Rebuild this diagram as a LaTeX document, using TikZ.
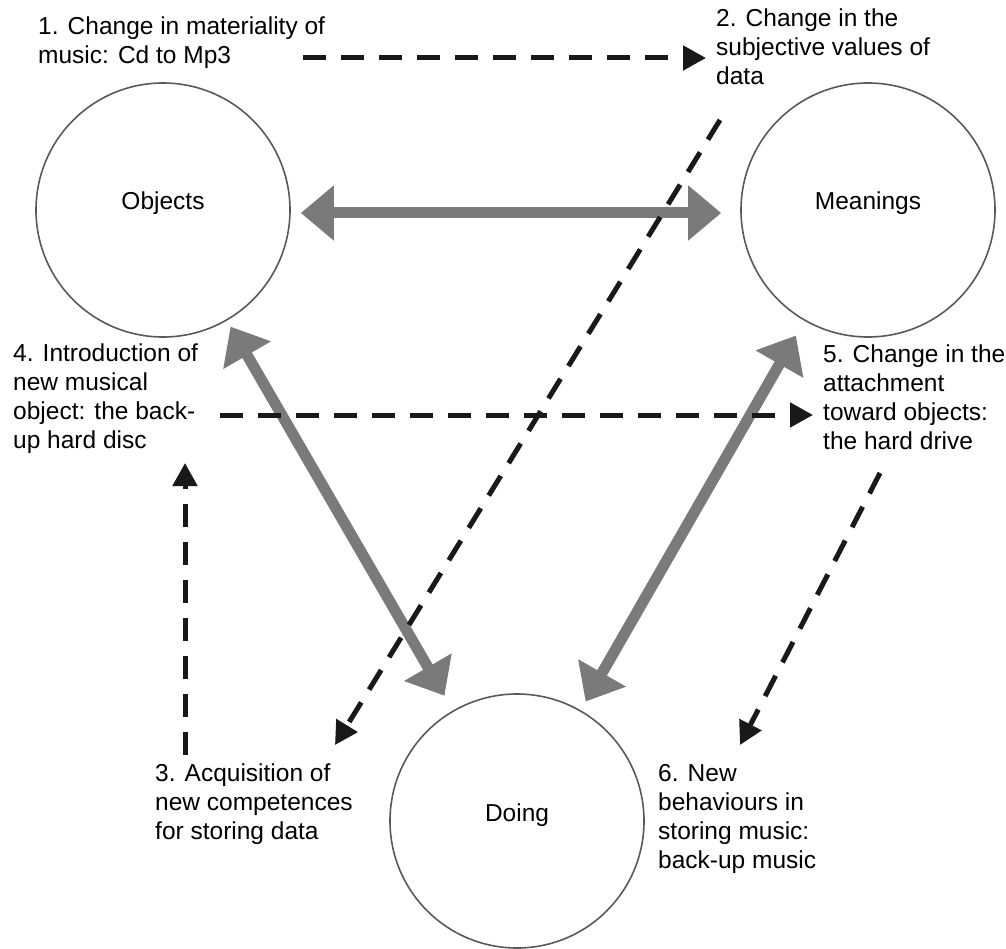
\documentclass[tikz,border=0pt]{standalone}
\usepackage{fontspec}
\setmainfont{Liberation Sans}
\usepackage{tikz}
\usetikzlibrary{arrows.meta, positioning, calc}

\begin{document}
\begin{tikzpicture}[
    x=1pt, y=-1pt,
    circ/.style={draw=black!65, line width=1.6pt, circle, minimum size=254pt, inner sep=0pt,
                 text height=17pt, text depth=17pt, font=\fontsize{24.5pt}{29pt}\selectfont},
    note/.style={anchor=north west, align=left, inner sep=0pt, font=\fontsize{24.5pt}{29pt}\selectfont},
    bidir/.style={{Triangle[length=33pt, width=53pt]}-{Triangle[length=33pt, width=53pt]},
                  line width=11pt, draw=black!52},
    dasharr/.style={-{Triangle[length=23pt, width=24pt]}, line width=5pt,
                    dash pattern=on 23pt off 15pt, draw=black!90}
]
\useasboundingbox (0,0) rectangle (1006,949);

% Circles
\node[circ] (obj) at (163,210) {Objects};
\node[circ] (mean) at (868,210) {Meanings};
\node[circ] (doing) at (517,821) {Doing};

% Notes
\node[note] (n1) at (38,17) {1. Change in materiality of\\music: Cd to Mp3};
\node[note] (n2) at (716,9) {2. Change in the\\subjective values of\\data};
\node[note] (n3) at (155,764) {3. Acquisition of\\new competences\\for storing data};
\node[note] (n4) at (13,344) {4. Introduction of\\new musical\\object: the back-\\up hard disc};
\node[note] (n5) at (823,345) {5. Change in the\\attachment\\toward objects:\\the hard drive};
\node[note] (n6) at (658,764) {6. New\\behaviours in\\storing music:\\back-up music};

% Arrow ends
\coordinate (a1) at (303,58);
\coordinate (a2) at (720,120);
\coordinate (b2) at (335,745);
\coordinate (a3) at (185,755);
\coordinate (b3) at (185,463);
\coordinate (a4) at (220,415);
\coordinate (a5) at (880,473);
\coordinate (b5) at (740,745);

% Relations between circles
\draw[bidir, shorten <=10pt, shorten >=19pt] ([yshift=-3pt]obj.east) -- ([yshift=-3pt]mean.west);
\draw[bidir, shorten <=7pt, shorten >=17pt] (obj) -- (doing);
\draw[bidir, shorten <=17pt, shorten >=10pt] (mean) -- (doing);

% Changes
\draw[dasharr, shorten >=10pt] (a1) -- (a1 -| n2.west);
\draw[dasharr] (a2) -- (b2);
\draw[dasharr] (a3) -- (b3);
\draw[dasharr, shorten >=10pt] (a4) -- (a4 -| n5.west);
\draw[dasharr] (a5) -- (b5);
\end{tikzpicture}
\end{document}
